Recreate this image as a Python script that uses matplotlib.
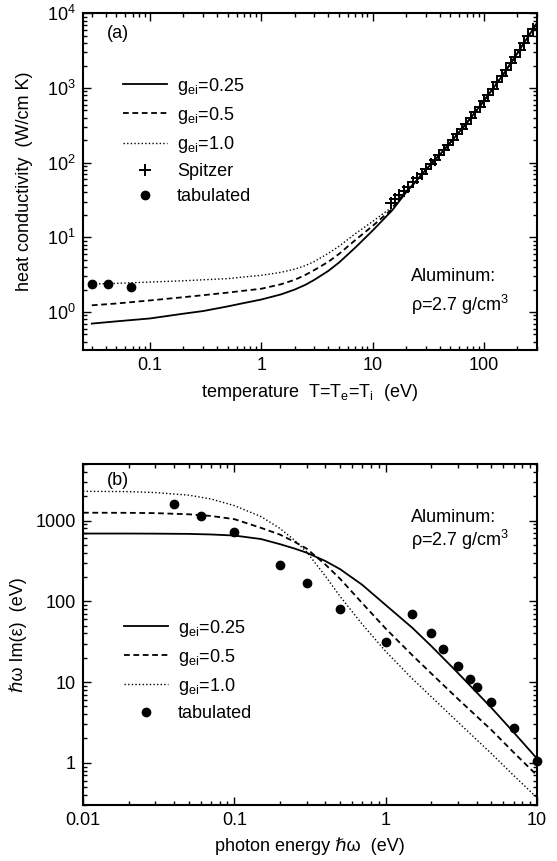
import matplotlib
matplotlib.use('Agg')
import matplotlib.pyplot as plt
from matplotlib.ticker import NullFormatter

plt.rcParams['font.family'] = ['Liberation Sans', 'DejaVu Sans']
plt.rcParams['mathtext.fontset'] = 'custom'
plt.rcParams['mathtext.rm'] = 'Liberation Sans'
plt.rcParams['mathtext.it'] = 'Liberation Sans'
plt.rcParams['font.size'] = 13

# (a) heat conductivity vs temperature
temp_model = [0.03, 0.05, 0.1, 0.2, 0.3, 0.5, 0.7, 1.0, 1.5, 2.0, 2.5, 3.0, 4.0, 5.0, 7.0,
              10, 15, 20, 25, 30, 40, 50, 70, 100, 150, 200, 300]
kappa_025 = [0.70, 0.75, 0.82, 0.95, 1.03, 1.19, 1.32, 1.47, 1.72, 2.0, 2.32, 2.7, 3.55, 4.6,
             7.3, 12.3, 23, 40, 58, 80, 127, 186, 338, 672, 1530, 2920, 7400]
kappa_05 = [1.23, 1.30, 1.43, 1.58, 1.68, 1.82, 1.93, 2.05, 2.35, 2.7, 3.15, 3.65, 4.7, 6.0,
            9.2, 14.2, 24, 41, 58, 80, 127, 186, 338, 672, 1530, 2920, 7400]
kappa_10 = [2.37, 2.42, 2.52, 2.62, 2.70, 2.80, 2.95, 3.1, 3.4, 3.75, 4.2, 4.75, 6.1, 7.6,
            11.2, 16.3, 25.5, 42, 59, 80, 127, 186, 338, 672, 1530, 2920, 7400]

temp_spitzer = [14.5, 15.9, 17.4, 19.1, 20.9, 23.0, 25.2, 27.6, 30.3, 33.2, 36.4, 39.9,
                43.8, 48.0, 52.6, 57.7, 63.2, 69.3, 76.0, 83.4, 91.4, 100.2, 109.9, 120.5,
                132.1, 144.9, 158.9, 174.2, 191.0, 209.4, 229.6, 251.8, 276.1]
kappa_spitzer = [29.2, 32.9, 37.1, 42.1, 47.8, 54.5, 62.2, 71.3, 82.0, 94.7, 109.6, 127.4,
                 148.3, 173.4, 203.2, 239.1, 282.0, 334.0, 396.5, 472.4, 564.4, 676.4, 813.4,
                 981.4, 1188, 1442, 1757, 2147, 2630, 3236, 3990, 4934, 6124]

temp_tab = [0.030, 0.042, 0.068]
kappa_tab = [2.37, 2.37, 2.18]

# (b) hbar*omega*Im(eps) vs photon energy
omega_model = [0.01, 0.02, 0.03, 0.05, 0.07, 0.1, 0.15, 0.2, 0.25, 0.3, 0.4, 0.5, 0.7,
               1.0, 1.5, 2.0, 3.0, 5.0, 7.0, 10.0]
absorb_025 = [690, 690, 688, 683, 672, 652, 590, 510, 450, 400, 315, 250, 160,
              90, 47, 28, 13, 4.8, 2.4, 1.13]
absorb_05 = [1250, 1245, 1235, 1195, 1140, 1040, 812, 670, 545, 450, 285, 190, 95,
             46, 21.5, 12.8, 6.2, 2.55, 1.35, 0.70]
absorb_10 = [2300, 2280, 2220, 2060, 1850, 1530, 1120, 800, 570, 410, 205, 115, 52,
             24, 11, 6.6, 3.2, 1.3, 0.70, 0.37]

omega_tab = [0.04, 0.06, 0.1, 0.2, 0.3, 0.5, 1.0, 1.5, 2.0, 2.4, 3.0, 3.6, 4.0, 5.0, 7.1, 10.0]
absorb_tab = [1620, 1150, 730, 285, 170, 80, 31, 69, 40, 25.5, 15.8, 11, 8.7, 5.65, 2.7, 1.06]

DOTTED = (0, (1, 1.6))
DASHED = (0, (3.2, 2))


def style_axes(ax):
    ax.tick_params(which='both', direction='in', top=True, right=True, width=1)
    ax.tick_params(which='major', length=6, pad=5)
    ax.tick_params(which='minor', length=3)
    ax.xaxis.set_minor_formatter(NullFormatter())
    ax.yaxis.set_minor_formatter(NullFormatter())
    for s in ax.spines.values():
        s.set_linewidth(1.5)


fig = plt.figure(figsize=(5.57, 8.61), dpi=100)

# ---- panel (a)
ax1 = fig.add_axes([0.149, 0.5935, 0.815, 0.391])
ax1.set_xscale('log')
ax1.set_yscale('log')
l1, = ax1.plot(temp_model, kappa_025, color='k', lw=1.3, ls='-')
l2, = ax1.plot(temp_model, kappa_05, color='k', lw=1.3, ls=DASHED)
l3, = ax1.plot(temp_model, kappa_10, color='k', lw=1.0, ls=DOTTED)
m1, = ax1.plot(temp_spitzer, kappa_spitzer, ls='none', marker='+', ms=8, mew=1.4, color='k')
m2, = ax1.plot(temp_tab, kappa_tab, ls='none', marker='o', ms=6, color='k')
ax1.set_xlim(0.025, 300)
ax1.set_ylim(0.31, 1e4)
ax1.set_xticks([0.1, 1, 10, 100], ['0.1', '1', '10', '100'])
ax1.set_yticks([1, 10, 100, 1000, 10000])
style_axes(ax1)
ax1.set_xlabel('temperature  T=T$_e$=T$_i$  (eV)', labelpad=6)
ax1.set_ylabel('heat conductivity  (W/cm K)', labelpad=10)
ax1.text(0.053, 0.94, '(a)', transform=ax1.transAxes, va='center')
ax1.text(0.722, 0.217, 'Aluminum:', transform=ax1.transAxes, va='center')
ax1.text(0.722, 0.134, 'ρ=2.7 g/cm$^3$', transform=ax1.transAxes, va='center')
ax1.legend([l1, l2, l3, m1, m2],
           ['g$_{ei}$=0.25', 'g$_{ei}$=0.5', 'g$_{ei}$=1.0', 'Spitzer', 'tabulated'],
           loc='upper left', bbox_to_anchor=(0.088, 0.815), frameon=False, borderpad=0,
           borderaxespad=0, handlelength=2.45, handletextpad=0.55, labelspacing=0.45)

# ---- panel (b)
ax2 = fig.add_axes([0.149, 0.065, 0.815, 0.396])
ax2.set_xscale('log')
ax2.set_yscale('log')
n1, = ax2.plot(omega_model, absorb_025, color='k', lw=1.3, ls='-')
n2, = ax2.plot(omega_model, absorb_05, color='k', lw=1.3, ls=DASHED)
n3, = ax2.plot(omega_model, absorb_10, color='k', lw=1.0, ls=DOTTED)
p2, = ax2.plot(omega_tab, absorb_tab, ls='none', marker='o', ms=6, color='k', clip_on=False)
ax2.set_xlim(0.01, 10)
ax2.set_ylim(0.3, 5000)
ax2.set_xticks([0.01, 0.1, 1, 10], ['0.01', '0.1', '1', '10'])
ax2.set_yticks([1, 10, 100, 1000], ['1', '10', '100', '1000'])
style_axes(ax2)
ax2.set_xlabel('photon energy ℏω  (eV)', labelpad=6)
ax2.set_ylabel('ℏω Im(ε)  (eV)', labelpad=6)
ax2.text(0.053, 0.953, '(b)', transform=ax2.transAxes, va='center')
ax2.text(0.722, 0.842, 'Aluminum:', transform=ax2.transAxes, va='center')
ax2.text(0.722, 0.777, 'ρ=2.7 g/cm$^3$', transform=ax2.transAxes, va='center')
ax2.legend([n1, n2, n3, p2],
           ['g$_{ei}$=0.25', 'g$_{ei}$=0.5', 'g$_{ei}$=1.0', 'tabulated'],
           loc='upper left', bbox_to_anchor=(0.09, 0.55), frameon=False, borderpad=0,
           borderaxespad=0, handlelength=2.45, handletextpad=0.55, labelspacing=0.45)

fig.savefig('out.png', dpi=100)
